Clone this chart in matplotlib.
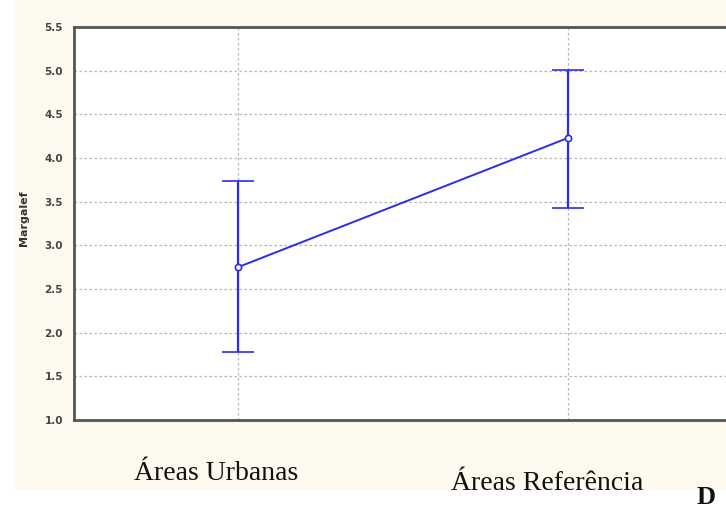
import matplotlib.pyplot as plt
from matplotlib.patches import Rectangle

# group means with the upper / lower limits of the error bars
groups = ["Áreas Urbanas", "Áreas Referência"]
means = [2.75, 4.23]
upper = [3.74, 5.01]
lower = [1.78, 3.43]
y_ticks = [1.0, 1.5, 2.0, 2.5, 3.0, 3.5, 4.0, 4.5, 5.0, 5.5]

fig = plt.figure(figsize=(7.26, 5.13), dpi=100, facecolor="white")
# cream backdrop behind the plot
fig.patches.append(Rectangle((15 / 726, 23 / 513), 1, 1, transform=fig.transFigure,
                             facecolor="#fdf9ee", edgecolor="none", zorder=-10))

ax = fig.add_axes([74 / 726, 93 / 513, 652 / 726, 393 / 513])
ax.set_facecolor("white")

x = list(range(len(groups)))
err_lo = [m - l for m, l in zip(means, lower)]
err_hi = [u - m for m, u in zip(means, upper)]
ax.errorbar(x, means, yerr=[err_lo, err_hi], color="#2b2bf0", lw=1.4,
            marker="o", ms=4.5, mfc="white", mec="#2b2bf0", mew=1.2,
            capsize=11.5, capthick=1.5, elinewidth=1.6, zorder=3)

ax.set_xlim(-0.497, 1.479)
ax.set_ylim(1.0, 5.5)
ax.set_yticks(y_ticks)
ax.set_yticklabels([f"{t:.1f}" for t in y_ticks], fontsize=7.5, color="#444444",
                   fontweight="bold")
ax.set_xticks(x)
ax.set_xticklabels([])
ax.tick_params(length=0, pad=8)
ax.grid(True, color="#b5b5b5", ls=(0, (2, 2)), lw=0.9)

for side in ["left", "bottom", "top"]:
    ax.spines[side].set_color("#555555")
    ax.spines[side].set_linewidth(2.0)
ax.spines["right"].set_visible(False)

fig.text(24 / 726, 1 - 218 / 513, "Margalef", rotation=90, fontsize=8,
         fontweight="bold", color="#333333", ha="center", va="center")

fig.text(216 / 726, 1 - 474 / 513, groups[0], fontsize=20, family="Liberation Serif",
         ha="center", va="center", color="#111111")
fig.text(547 / 726, 1 - 483 / 513, groups[1], fontsize=20, family="Liberation Serif",
         ha="center", va="center", color="#111111")
fig.text(706 / 726, 1 - 497 / 513, "D", fontsize=19, family="Liberation Serif",
         fontweight="bold", ha="center", va="center", color="#111111")

fig.savefig("out.png", dpi=100)
